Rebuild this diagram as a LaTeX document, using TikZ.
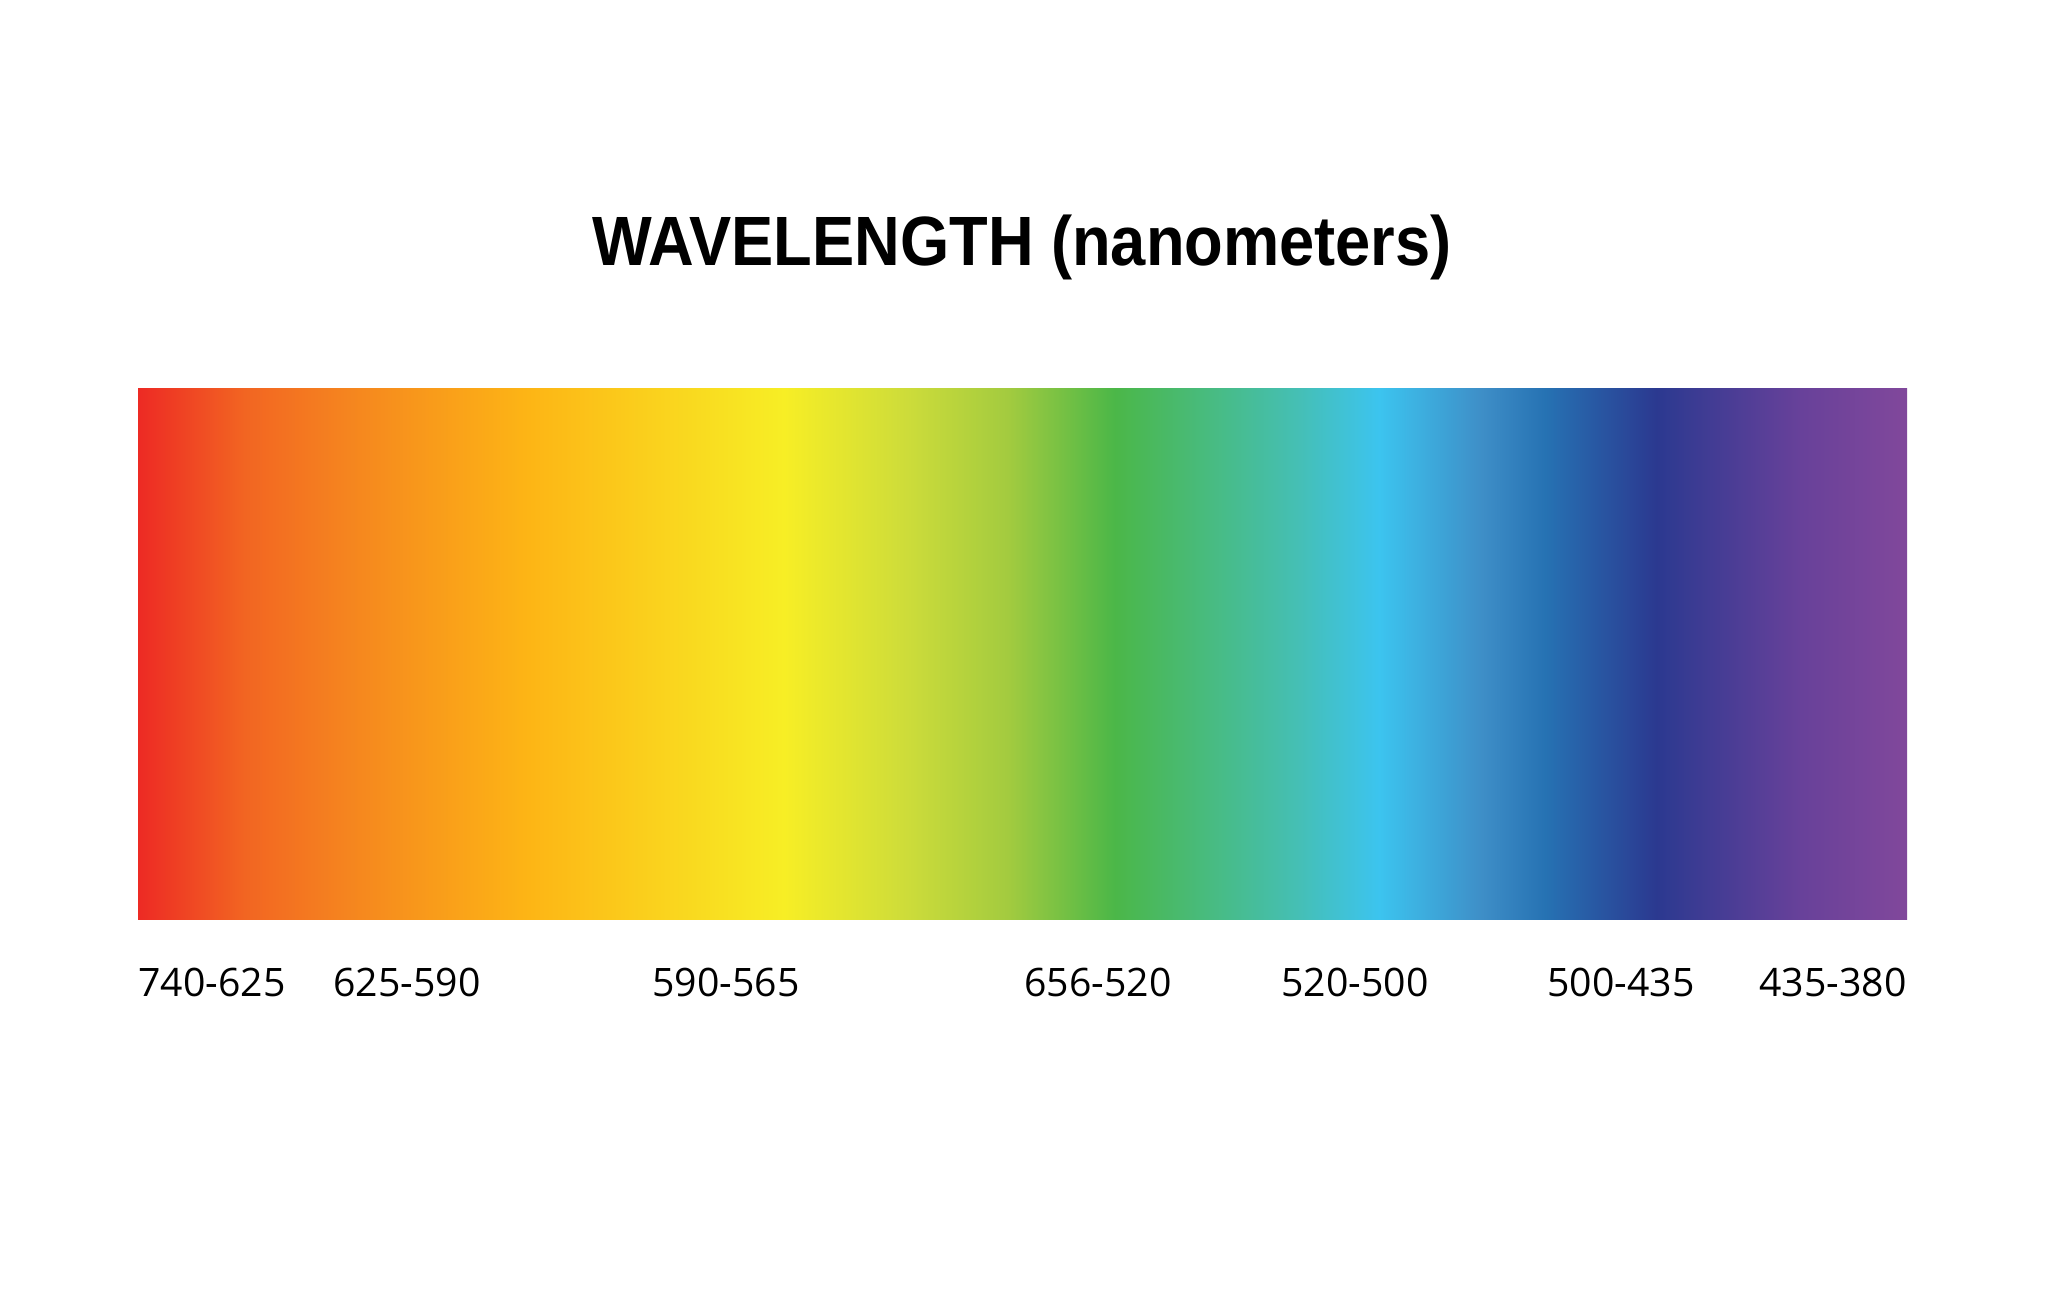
\documentclass[tikz,border=0pt]{standalone}
\usepackage{graphicx}
\usepackage{fontspec}
\setmainfont{Open Sans}
\newfontfamily\titlefont{Liberation Sans}
\definecolor{s01}{HTML}{ED2A24}
\definecolor{s02}{HTML}{F26522}
\definecolor{s03}{HTML}{F5841F}
\definecolor{s04}{HTML}{FDB515}
\definecolor{s05}{HTML}{F7EE25}
\definecolor{s06}{HTML}{CDDC3A}
\definecolor{s07}{HTML}{A3CB3F}
\definecolor{s08}{HTML}{4BB748}
\definecolor{s09}{HTML}{45BFB5}
\definecolor{s10}{HTML}{3CC4EF}
\definecolor{s11}{HTML}{3E8EC7}
\definecolor{s12}{HTML}{2672B3}
\definecolor{s13}{HTML}{2B3990}
\definecolor{s14}{HTML}{68419A}
\definecolor{s15}{HTML}{81489B}
\pgfdeclarehorizontalshading{spectrum}{100bp}{%
  color(0bp)=(s01); color(25bp)=(s01); color(28.02bp)=(s02);
  color(30.85bp)=(s03); color(36.02bp)=(s04); color(43.26bp)=(s05);
  color(46.74bp)=(s06); color(49.58bp)=(s07); color(52.61bp)=(s08);
  color(57.79bp)=(s09); color(60.08bp)=(s10); color(62.99bp)=(s11);
  color(64.77bp)=(s12); color(67.91bp)=(s13); color(72.0bp)=(s14);
  color(75bp)=(s15); color(100bp)=(s15)}
\tikzset{
  rangelabel/.style={anchor=base, inner sep=0pt, font=\fontsize{19.6}{22}\selectfont, text=black},
  titlelabel/.style={anchor=base, inner sep=0pt, font=\titlefont\bfseries\fontsize{34.9}{40}\selectfont, text=black}
}
\begin{document}
\begin{tikzpicture}[x=0.5pt, y=-0.5pt]
  \useasboundingbox[fill=white] (0,0) rectangle (2048,1305);
  \node[titlelabel] (title) at (1022,265) {\scalebox{0.906}[1]{WAVELENGTH (nanometers)}};
  \path[shading=spectrum] (138,388) rectangle (1907,919);
  \node[rangelabel] (r1) at (212,996) {740-625};
  \node[rangelabel] (r2) at (407,996) {625-590};
  \node[rangelabel] (r3) at (726,996) {590-565};
  \node[rangelabel] (r4) at (1098,996) {656-520};
  \node[rangelabel] (r5) at (1355,996) {520-500};
  \node[rangelabel] (r6) at (1621,996) {500-435};
  \node[rangelabel] (r7) at (1833,996) {435-380};
\end{tikzpicture}
\end{document}
